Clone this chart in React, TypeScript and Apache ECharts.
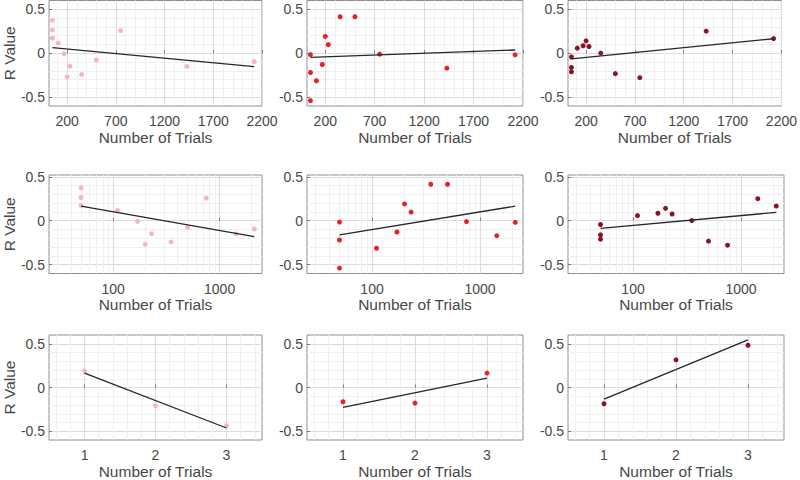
import React, { useEffect, useRef } from "react";
import * as echarts from "echarts";

// ---- data ----
const trials = [50, 50, 50, 110, 170, 200, 230, 350, 500, 750, 1430, 2120];
const rPink = [0.373, 0.264, 0.173, 0.117, -0.006, -0.268, -0.147, -0.241, -0.076, 0.258, -0.15, -0.095];
const rRed = [-0.015, -0.219, -0.538, -0.313, -0.128, 0.191, 0.098, 0.415, 0.415, -0.01, -0.17, -0.018];
const rDark = [-0.043, -0.161, -0.21, 0.058, 0.085, 0.141, 0.077, 0.002, -0.232, -0.278, 0.251, 0.167];

const sessions = [1, 2, 3];
const rPinkSession = [0.19, -0.21, -0.437];
const rRedSession = [-0.163, -0.178, 0.164];
const rDarkSession = [-0.186, 0.316, 0.483];

// fitted regression line end points
const fitTrialsX = [50, 2120];
const fitLinPink = [0.064, -0.152];
const fitLinRed = [-0.046, 0.037];
const fitLinDark = [-0.065, 0.165];
const fitLogPink = [0.166, -0.18];
const fitLogRed = [-0.161, 0.166];
const fitLogDark = [-0.086, 0.095];
const fitSessionX = [1, 3];
const fitSessPink = [0.164, -0.463];
const fitSessRed = [-0.228, 0.107];
const fitSessDark = [-0.132, 0.544];

// tick labels
const linearTicks = [200, 700, 1200, 1700, 2200];
const linearMinor = [100, 300, 400, 500, 600, 800, 900, 1000, 1100, 1300, 1400, 1500, 1600, 1800, 1900, 2000, 2100];
const logTicks = [100, 1000];
const logMinor = [30, 40, 50, 60, 70, 80, 90, 200, 300, 400, 500, 600, 700, 800, 900, 2000];
const sessionTicks = [1, 2, 3];
const sessionMinor = [0.6, 0.8, 1.2, 1.4, 1.6, 1.8, 2.2, 2.4, 2.6, 2.8, 3.2, 3.4];
const rTicks = [-0.5, 0, 0.5];
const rMinor = [-0.4, -0.3, -0.2, -0.1, 0.1, 0.2, 0.3, 0.4];

const colors = ["#f5b5c7", "#e8202c", "#8b1421"];
const FONT = "'Liberation Sans', Arial, Helvetica, sans-serif";
const TXT = "#474747";

const rows = [
  {
    type: "value", min: 15, max: 2200, ticks: linearTicks, minor: linearMinor,
    x: trials, ys: [rPink, rRed, rDark], fitX: fitTrialsX, fits: [fitLinPink, fitLinRed, fitLinDark], ymax: 0.6,
  },
  {
    type: "log", min: 25, max: 2500, ticks: logTicks, minor: logMinor,
    x: trials, ys: [rPink, rRed, rDark], fitX: fitTrialsX, fits: [fitLogPink, fitLogRed, fitLogDark], ymax: 0.52,
  },
  {
    type: "value", min: 0.5, max: 3.5, ticks: sessionTicks, minor: sessionMinor,
    x: sessions, ys: [rPinkSession, rRedSession, rDarkSession], fitX: fitSessionX,
    fits: [fitSessPink, fitSessRed, fitSessDark], ymax: 0.6,
  },
];

const colLefts = [46, 307, 568];
const rowTops = [0.5, 175, 335];
const rowHeights = [105.5, 98.5, 105];

function buildOption() {
  const grid: any[] = [];
  const xAxis: any[] = [];
  const yAxis: any[] = [];
  const series: any[] = [];
  rows.forEach((row, r) => {
    for (let c = 0; c < 3; c++) {
      const g = r * 3 + c;
      grid.push({
        left: colLefts[c], top: rowTops[r], width: 216, height: rowHeights[r],
        show: true, borderColor: "#8e8e8e", borderWidth: 1, backgroundColor: "transparent",
      });
      xAxis.push({
        type: row.type, gridIndex: g, min: row.min, max: row.max, position: "bottom",
        name: "Number of Trials", nameLocation: "middle", nameGap: 23,
        nameTextStyle: { fontSize: 15.5, color: TXT, fontFamily: FONT },
        axisLine: { show: false },
        axisTick: { show: true, inside: true, length: 3, customValues: row.ticks, lineStyle: { color: "#777" } },
        axisLabel: {
          customValues: row.ticks, fontSize: 14, color: TXT, fontFamily: FONT, margin: 8,
          formatter: (v: number) => String(Math.round(v * 1000) / 1000),
        },
        splitLine: { show: true, lineStyle: { color: "#dcdcdc", width: 1 } },
      });
      xAxis.push({
        type: row.type, gridIndex: g, min: row.min, max: row.max, position: "top",
        axisLine: { show: false },
        axisTick: { show: false, customValues: row.minor },
        axisLabel: { show: false, customValues: row.minor },
        splitLine: { show: true, lineStyle: { color: "#efefef", width: 1 } },
      });
      yAxis.push({
        type: "value", gridIndex: g, min: -0.6, max: row.ymax, position: "left",
        name: c === 0 ? "R Value" : "", nameLocation: "middle", nameGap: 31,
        nameTextStyle: { fontSize: 15.5, color: TXT, fontFamily: FONT },
        axisLine: { show: false },
        axisTick: { show: true, inside: true, length: 3, customValues: rTicks, lineStyle: { color: "#777" } },
        axisLabel: {
          customValues: rTicks, fontSize: 14, color: TXT, fontFamily: FONT, margin: 4,
          formatter: (v: number) => (Math.abs(v) < 1e-9 ? "0" : String(v)),
        },
        splitLine: { show: true, lineStyle: { color: "#dcdcdc", width: 1 } },
      });
      yAxis.push({
        type: "value", gridIndex: g, min: -0.6, max: row.ymax, position: "right",
        axisLine: { show: false },
        axisTick: { show: false, customValues: rMinor },
        axisLabel: { show: false, customValues: rMinor },
        splitLine: { show: true, lineStyle: { color: "#efefef", width: 1 } },
      });
      series.push({
        type: "scatter", xAxisIndex: 2 * g, yAxisIndex: 2 * g,
        data: row.x.map((v, i) => [v, row.ys[c][i]]),
        symbolSize: 5, itemStyle: { color: colors[c], opacity: 1 }, z: 3,
      });
      series.push({
        type: "line", xAxisIndex: 2 * g, yAxisIndex: 2 * g,
        data: row.fitX.map((v, i) => [v, row.fits[c][i]]),
        symbol: "none", showSymbol: false,
        lineStyle: { color: "#262626", width: 1.3 }, z: 4,
      });
    }
  });
  return {
    animation: false,
    backgroundColor: "#ffffff",
    textStyle: { fontFamily: FONT },
    grid, xAxis, yAxis, series,
  };
}

export default function App() {
  const ref = useRef<HTMLDivElement>(null);
  useEffect(() => {
    if (!ref.current) return;
    const chart = echarts.init(ref.current, undefined, { renderer: "svg" });
    chart.setOption(buildOption() as any);
    return () => chart.dispose();
  }, []);
  return (
    <div
      ref={ref}
      style={{ position: "fixed", left: 0, top: 0, width: 800, height: 480, background: "#fff" }}
    />
  );
}
